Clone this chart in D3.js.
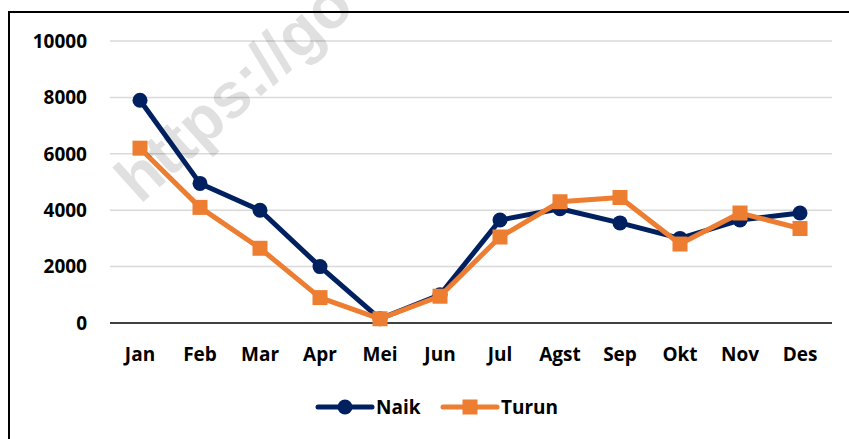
<!DOCTYPE html>
<html>
<head>
<meta charset="utf-8">
<script src="https://cdn.jsdelivr.net/npm/d3@7"></script>
<style>
  body { margin: 0; background: #fff; }
  text { font-family: "Open Sans", "Noto Sans", sans-serif; font-weight: bold; }
</style>
</head>
<body>
<div id="chart"></div>
<script>
// chart data
const months = ['Jan', 'Feb', 'Mar', 'Apr', 'Mei', 'Jun', 'Jul', 'Agst', 'Sep', 'Okt', 'Nov', 'Des'];
const naik = [7900, 4950, 4000, 2000, 150, 1000, 3650, 4050, 3550, 3000, 3650, 3900];
const turun = [6200, 4100, 2650, 900, 150, 950, 3050, 4300, 4450, 2800, 3900, 3350];
const yTicks = [0, 2000, 4000, 6000, 8000, 10000];

const width = 849, height = 439;
const plot = {left: 110, right: 830, top: 41, bottom: 323};
const navy = '#002060', orange = '#ED7D31';

const svg = d3.select('#chart').append('svg')
    .attr('width', width)
    .attr('height', height);

svg.append('rect')
    .attr('width', width).attr('height', height)
    .attr('fill', '#fff');

// outer frame (only left and top visible, the rest is cropped)
svg.append('rect')
    .attr('x', 9).attr('y', 12)
    .attr('width', 1000).attr('height', 1000)
    .attr('fill', 'none')
    .attr('stroke', '#000')
    .attr('stroke-width', 2);

let x = d3.scaleBand().domain(months).range([plot.left, plot.right]);
let y = d3.scaleLinear().domain([0, 10000]).range([plot.bottom, plot.top]);
let cx = d => x(d) + x.bandwidth() / 2;

// gridlines
svg.append('g')
    .selectAll('line')
    .data(yTicks.filter(t => t > 0))
    .enter().append('line')
        .attr('x1', plot.left).attr('x2', plot.right + 2)
        .attr('y1', d => y(d)).attr('y2', d => y(d))
        .attr('stroke', '#d9d9d9')
        .attr('stroke-width', 1.5);

// y labels
svg.append('g')
    .selectAll('text')
    .data(yTicks)
    .enter().append('text')
        .attr('x', plot.left - 23)
        .attr('y', d => y(d))
        .attr('dy', '0.36em')
        .attr('text-anchor', 'end')
        .attr('font-size', 19)
        .attr('fill', '#000')
        .text(d => d);

// x axis line + labels
svg.append('line')
    .attr('x1', plot.left).attr('x2', plot.right + 2)
    .attr('y1', y(0)).attr('y2', y(0))
    .attr('stroke', '#000')
    .attr('stroke-width', 1.5);

svg.append('g')
    .selectAll('text')
    .data(months)
    .enter().append('text')
        .attr('x', d => cx(d))
        .attr('y', 361)
        .attr('text-anchor', 'middle')
        .attr('font-size', 19)
        .attr('fill', '#000')
        .text(d => d);

let line = d3.line()
    .x((d, i) => cx(months[i]))
    .y(d => y(d));

// Naik series
svg.append('path')
    .datum(naik)
    .attr('d', line)
    .attr('fill', 'none')
    .attr('stroke', navy)
    .attr('stroke-width', 5)
    .attr('stroke-linejoin', 'round');

svg.append('g')
    .selectAll('circle')
    .data(naik)
    .enter().append('circle')
        .attr('cx', (d, i) => cx(months[i]))
        .attr('cy', d => y(d))
        .attr('r', 7.5)
        .attr('fill', navy);

// Turun series
svg.append('path')
    .datum(turun)
    .attr('d', line)
    .attr('fill', 'none')
    .attr('stroke', orange)
    .attr('stroke-width', 5)
    .attr('stroke-linejoin', 'round');

svg.append('g')
    .selectAll('rect')
    .data(turun)
    .enter().append('rect')
        .attr('x', (d, i) => cx(months[i]) - 7.5)
        .attr('y', d => y(d) - 7.5)
        .attr('width', 15)
        .attr('height', 15)
        .attr('fill', orange);

// legend
const legendItems = [
    {name: 'Naik', color: navy, shape: 'circle', x: 318},
    {name: 'Turun', color: orange, shape: 'square', x: 443}
];
let legend = svg.append('g')
    .selectAll('g')
    .data(legendItems)
    .enter().append('g')
        .attr('transform', d => `translate(${d.x},407)`);

legend.append('line')
    .attr('x1', 0).attr('x2', 54)
    .attr('stroke', d => d.color)
    .attr('stroke-width', 5)
    .attr('stroke-linecap', 'round');

legend.filter(d => d.shape === 'circle').append('circle')
    .attr('cx', 27).attr('r', 7.5)
    .attr('fill', d => d.color);

legend.filter(d => d.shape === 'square').append('rect')
    .attr('x', 19.5).attr('y', -7.5)
    .attr('width', 15).attr('height', 15)
    .attr('fill', d => d.color);

legend.append('text')
    .attr('x', 58)
    .attr('dy', '0.36em')
    .attr('font-size', 19)
    .attr('fill', '#000')
    .text(d => d.name);

// watermark (cropped at the top in the source too)
svg.append('text')
    .attr('transform', 'translate(140,205) rotate(-42)')
    .attr('font-size', 64)
    .attr('fill', '#000')
    .attr('fill-opacity', 0.12)
    .style('font-family', '"Liberation Sans", Arial, sans-serif')
    .text('https://go');
</script>
</body>
</html>
